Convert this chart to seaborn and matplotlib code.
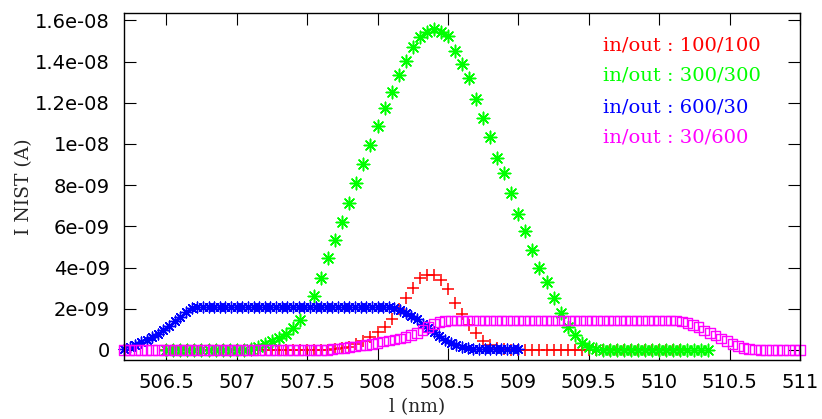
import numpy as np
import pandas as pd
import matplotlib
matplotlib.use("Agg")
import matplotlib.pyplot as plt
import seaborn as sns

# wavelength grids (nm)
wl_coarse = [
    506.50, 506.55, 506.60, 506.65, 506.70, 506.75, 506.80, 506.85, 506.90, 506.95,
    507.00, 507.05, 507.10, 507.15, 507.20, 507.25, 507.30, 507.35, 507.40, 507.45,
    507.50, 507.55, 507.60, 507.65, 507.70, 507.75, 507.80, 507.85, 507.90, 507.95,
    508.00, 508.05, 508.10, 508.15, 508.20, 508.25, 508.30, 508.35, 508.40, 508.45,
    508.50, 508.55, 508.60, 508.65, 508.70, 508.75, 508.80, 508.85, 508.90, 508.95,
    509.00, 509.05, 509.10, 509.15, 509.20, 509.25, 509.30, 509.35, 509.40, 509.45,
    509.50, 509.55, 509.60, 509.65, 509.70, 509.75, 509.80, 509.85, 509.90, 509.95,
    510.00, 510.05, 510.10, 510.15, 510.20, 510.25, 510.30, 510.35,
]
wl_fine = [
    506.20, 506.24, 506.28, 506.32, 506.36, 506.40, 506.44, 506.48, 506.52, 506.56,
    506.60, 506.64, 506.68, 506.72, 506.76, 506.80, 506.84, 506.88, 506.92, 506.96,
    507.00, 507.04, 507.08, 507.12, 507.16, 507.20, 507.24, 507.28, 507.32, 507.36,
    507.40, 507.44, 507.48, 507.52, 507.56, 507.60, 507.64, 507.68, 507.72, 507.76,
    507.80, 507.84, 507.88, 507.92, 507.96, 508.00, 508.04, 508.08, 508.12, 508.16,
    508.20, 508.24, 508.28, 508.32, 508.36, 508.40, 508.44, 508.48, 508.52, 508.56,
    508.60, 508.64, 508.68, 508.72, 508.76, 508.80, 508.84, 508.88, 508.92, 508.96,
    509.00, 509.04, 509.08, 509.12, 509.16, 509.20, 509.24, 509.28, 509.32, 509.36,
    509.40, 509.44, 509.48, 509.52, 509.56, 509.60, 509.64, 509.68, 509.72, 509.76,
    509.80, 509.84, 509.88, 509.92, 509.96, 510.00, 510.04, 510.08, 510.12, 510.16,
    510.20, 510.24, 510.28, 510.32, 510.36, 510.40, 510.44, 510.48, 510.52, 510.56,
    510.60, 510.64, 510.68, 510.72, 510.76, 510.80, 510.84, 510.88, 510.92, 510.96,
    511.00,
]

# currents in units of 1e-9 A
red_nA = [  # in/out 100/100, on wl_coarse up to 510.15
    0, 0, 0, 0, 0, 0, 0, 0, 0, 0, 0, 0, 0, 0, 0, 0, 0, 0, 0, 0, 0, 0, 0, 0,
    0.03, 0.08, 0.15, 0.28, 0.45, 0.62, 0.85, 1.12, 1.52, 2.0, 2.5, 3.03, 3.47,
    3.65, 3.62, 3.38, 2.95, 2.3, 1.75, 1.2, 0.8, 0.45, 0.22, 0.1, 0.04,
    0, 0, 0, 0, 0, 0, 0, 0, 0, 0, 0, 0, 0, 0, 0, 0, 0, 0, 0, 0, 0, 0, 0, 0, 0,
]
green_nA = [  # in/out 300/300, on wl_coarse (no sample at 507.50)
    0, 0, 0, 0, 0, 0, 0, 0, 0, 0, 0, 0,
    0.05, 0.15, 0.28, 0.42, 0.6, 0.79, 1.04, 1.43, np.nan, 2.64,
    3.47, 4.44, 5.32, 6.2, 7.12, 8.09, 9.02, 9.94, 10.87, 11.75,
    12.53, 13.36, 14.04, 14.72, 15.21, 15.45, 15.6, 15.45, 15.26, 14.53,
    13.9, 13.21, 12.19, 11.26, 10.34, 9.32, 8.59, 7.61, 6.59, 5.76,
    4.84, 3.96, 3.28, 2.5, 1.77, 1.09, 0.7, 0.35, 0.12, 0.04,
    0, 0, 0, 0, 0, 0, 0, 0, 0, 0, 0, 0, 0, 0, 0, 0,
]
blue_nA = [  # in/out 600/30, on wl_fine up to 509.00
    0.05, 0.15, 0.25, 0.38, 0.5, 0.62, 0.78, 0.95, 1.15, 1.38, 1.62, 1.85, 2.02, 2.1,
    2.1, 2.1, 2.1, 2.1, 2.1, 2.1, 2.1, 2.1, 2.1, 2.1, 2.1, 2.1, 2.1, 2.1, 2.1, 2.1, 2.1,
    2.1, 2.1, 2.1, 2.1, 2.1, 2.1, 2.1, 2.1, 2.1, 2.1, 2.1, 2.1, 2.1, 2.1, 2.1, 2.1,
    2.08, 2.02, 1.92, 1.8, 1.65, 1.48, 1.28, 1.08, 0.88, 0.68, 0.5, 0.35, 0.22,
    0.14, 0.09, 0.06, 0.04,
    0.03, 0.03, 0.03, 0.03, 0.03, 0.03, 0.03,
]
magenta_nA = [  # in/out 30/600, on wl_fine
    0, 0, 0, 0, 0, 0, 0, 0, 0, 0, 0, 0, 0, 0, 0, 0, 0, 0, 0, 0, 0, 0, 0, 0, 0, 0, 0,
    0, 0, 0, 0, 0, 0, 0, 0, 0, 0,
    0.03, 0.06, 0.1, 0.13, 0.17, 0.21, 0.25, 0.3, 0.35, 0.4, 0.45, 0.5, 0.56, 0.63,
    0.72, 0.83, 0.97, 1.12, 1.26, 1.35, 1.4,
    1.42, 1.42, 1.42, 1.42, 1.42, 1.42, 1.42, 1.42, 1.42, 1.42, 1.42, 1.42, 1.42, 1.42,
    1.42, 1.42, 1.42, 1.42, 1.42, 1.42, 1.42, 1.42, 1.42, 1.42, 1.42, 1.42, 1.42, 1.42,
    1.42, 1.42, 1.42, 1.42, 1.42, 1.42, 1.42, 1.42, 1.42, 1.42, 1.42, 1.42, 1.42,
    1.38, 1.3, 1.22, 1.12, 0.95, 0.82, 0.7, 0.56, 0.43, 0.3, 0.18, 0.1, 0.05, 0.02,
    0, 0, 0, 0, 0, 0, 0, 0,
]

series_labels = ["in/out : 100/100", "in/out : 300/300", "in/out : 600/30", "in/out : 30/600"]
series_colors = ["#ff0000", "#00ff00", "#0000ff", "#ff00ff"]

x_ticks = [506.5, 507, 507.5, 508, 508.5, 509, 509.5, 510, 510.5, 511]
x_ticklabels = ["506.5", "507", "507.5", "508", "508.5", "509", "509.5", "510", "510.5", "511"]
y_ticks = [0, 2e-9, 4e-9, 6e-9, 8e-9, 1e-8, 1.2e-8, 1.4e-8, 1.6e-8]
y_ticklabels = ["0", "2e-09", "4e-09", "6e-09", "8e-09", "1e-08", "1.2e-08", "1.4e-08", "1.6e-08"]

sns.set_style("ticks")
plt.rcParams["font.family"] = ["DejaVu Sans"]

# assemble a long table
frames = [
    pd.DataFrame({"wl": wl_coarse[:len(red_nA)], "I": np.array(red_nA) * 1e-9, "run": series_labels[0]}),
    pd.DataFrame({"wl": wl_coarse[:len(green_nA)], "I": np.array(green_nA) * 1e-9, "run": series_labels[1]}),
    pd.DataFrame({"wl": wl_fine[:len(blue_nA)], "I": np.array(blue_nA) * 1e-9, "run": series_labels[2]}),
    pd.DataFrame({"wl": wl_fine[:len(magenta_nA)], "I": np.array(magenta_nA) * 1e-9, "run": series_labels[3]}),
]
data = pd.concat(frames, ignore_index=True).dropna()

fig = plt.figure(figsize=(8.22, 4.19), dpi=100)
ax = fig.add_axes([124 / 822, 1 - 360 / 419, 676 / 822, 347 / 419])

marker_styles = [
    dict(marker="+", s=80, linewidth=1.1),
    dict(marker=(8, 2, 0), s=80, linewidth=1.1),
    dict(marker=(8, 2, 0), s=60, linewidth=1.0),
    dict(marker="s", s=48, linewidth=1.0),
]
for lab, col, kw in zip(series_labels, series_colors, marker_styles):
    sub = data[data["run"] == lab]
    if kw["marker"] == "s":
        sns.scatterplot(data=sub, x="wl", y="I", ax=ax, facecolor="none",
                        edgecolor=col, clip_on=False, legend=False, **kw)
    else:
        sns.scatterplot(data=sub, x="wl", y="I", ax=ax, color=col,
                        clip_on=False, legend=False, **kw)

ax.set_xlim(506.2, 511.0)
ax.set_ylim(-4.9e-10, 1.636e-8)
ax.set_xticks(x_ticks)
ax.set_xticklabels(x_ticklabels)
ax.set_yticks(y_ticks)
ax.set_yticklabels(y_ticklabels)
ax.tick_params(direction="in", length=8.6, width=0.8, labelsize=14,
               top=True, right=True, colors="black")
ax.tick_params(axis="x", pad=9)
ax.tick_params(axis="y", pad=10)
for sp in ax.spines.values():
    sp.set_visible(True)
    sp.set_linewidth(1.0)
    sp.set_color("black")

ax.set_xlabel("l (nm)", family="DejaVu Serif", fontsize=13.5)
ax.set_ylabel("I NIST (A)", family="DejaVu Serif", fontsize=13.5, labelpad=2)
ax.xaxis.set_label_coords(0.433, -0.11)

# key written as coloured text
for i, (lab, col) in enumerate(zip(series_labels, series_colors)):
    fig.text(603 / 822, 1 - (45 + 31 * i) / 419, lab, color=col,
             family="DejaVu Serif", fontsize=14, ha="left", va="center")

fig.savefig("out.png", dpi=100)
